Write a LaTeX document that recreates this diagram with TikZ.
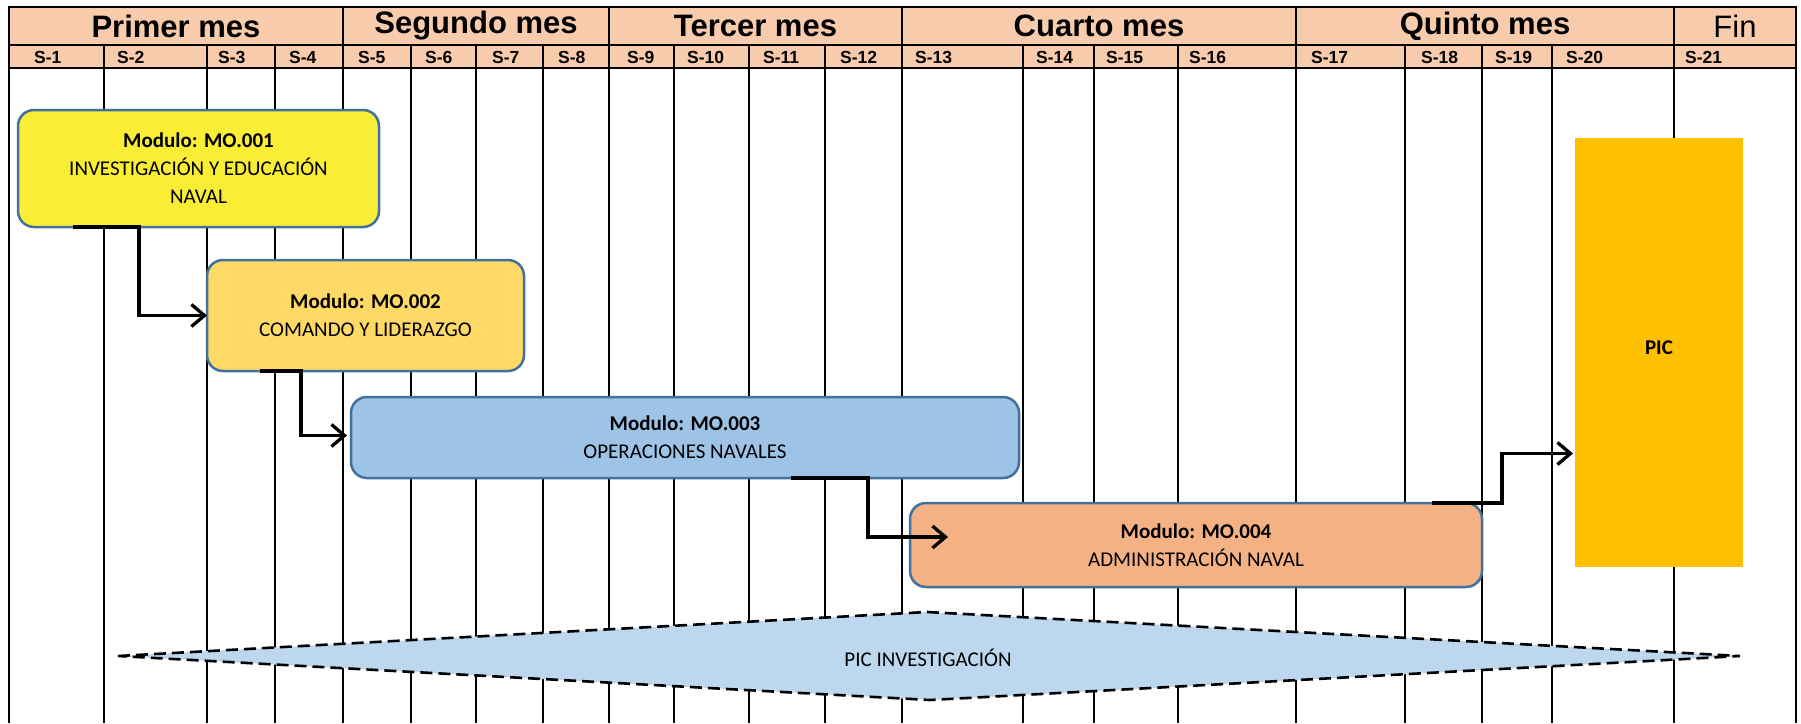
\documentclass[tikz,border=0pt]{standalone}
\usepackage{fontspec}
\setmainfont{Liberation Sans}
\newfontfamily\calfont{Carlito}
\usetikzlibrary{arrows.meta,calc}
\definecolor{hdrfill}{HTML}{F8CBAD}
\definecolor{boxline}{HTML}{41719C}
\definecolor{yellowbox}{HTML}{F9EE35}
\definecolor{goldbox}{HTML}{FFD966}
\definecolor{bluebox}{HTML}{9DC3E6}
\definecolor{orangebox}{HTML}{F4B183}
\definecolor{picfill}{HTML}{FFC000}
\definecolor{diamfill}{HTML}{BDD7EE}
\tikzset{
  month/.style={font=\fontsize{31}{34}\selectfont\bfseries, inner sep=0pt},
  monthreg/.style={font=\fontsize{31}{34}\selectfont, inner sep=0pt},
  week/.style={font=\fontsize{17.5}{19}\selectfont\bfseries, inner sep=0pt, anchor=west},
  grid/.style={line width=1.8pt, black},
  hborder/.style={line width=2.6pt, black},
  modbox/.style={draw=boxline, line width=2.5pt, rounded corners=16pt, inner sep=0pt, outer sep=0pt, align=center, font=\calfont\fontsize{21}{28}\selectfont},
  picbox/.style={fill=picfill, inner sep=0pt, outer sep=0pt, font=\calfont\fontsize{21}{28}\selectfont\bfseries},
  link/.style={line width=3.3pt, black, -{Straight Barb[length=13pt,width=22pt,line width=3.3pt]}},
  diam/.style={draw=black, fill=diamfill, line width=2.6pt, dash pattern=on 12pt off 6pt},
  diamlabel/.style={inner sep=0pt, font=\calfont\fontsize{21}{24}\selectfont}
}
\begin{document}
\begin{tikzpicture}[x=1pt,y=-1pt]
\useasboundingbox (0,0) rectangle (1801,723);
\fill[white] (0,0) rectangle (1801,723);
% header
\fill[hdrfill] (9,7) rectangle (1796,68);
\foreach \x in {9,104,207,275,343,411,476,543,609,674,749,825,902,1023,1094,1178,1296,1405,1482,1552,1674,1796}
  \draw[grid] (\x,45) -- (\x,723);
\foreach \x in {343,609,902,1296,1674}
  \draw[hborder] (\x,7) -- (\x,45);
\draw[hborder] (9,7) rectangle (1796,68);
\draw[hborder] (9,45) -- (1796,45);
\node[month] (m1) at (176,26) {Primer mes};
\node[month] (m2) at (476,26) {Segundo mes};
\node[month] (m3) at (755.5,26) {Tercer mes};
\node[month] (m4) at (1099,26) {Cuarto mes};
\node[month] (m5) at (1485,26) {Quinto mes};
\node[monthreg] (m6) at (1735,26) {Fin};
\foreach \x/\n in {34/1,117/2,218/3,289/4,358/5,425/6,492/7,558/8,627/9,687/10,763/11,840/12,915/13,1036/14,1106/15,1189/16,1311/17,1421/18,1495/19,1566/20,1685/21}
  \node[week] (s\n) at (\x,57) {S-\n};
% modules
\node[modbox, fill=yellowbox, minimum width=361pt, minimum height=117pt] (b1) at (198.5,168.5)
  {\textbf{Modulo: MO.001}\\INVESTIGACIÓN Y EDUCACIÓN\\NAVAL};
\node[modbox, fill=goldbox, minimum width=317pt, minimum height=111pt] (b2) at (365.5,315.5)
  {\textbf{Modulo: MO.002}\\COMANDO Y LIDERAZGO};
\node[modbox, fill=bluebox, minimum width=668pt, minimum height=81pt] (b3) at (685,437.5)
  {\textbf{Modulo: MO.003}\\OPERACIONES NAVALES};
\node[modbox, fill=orangebox, minimum width=572pt, minimum height=84pt] (b4) at (1196,545)
  {\textbf{Modulo: MO.004}\\ADMINISTRACIÓN NAVAL};
\node[picbox, minimum width=168pt, minimum height=429pt] (pic) at (1659,352.5) {\raisebox{10pt}{PIC}};
% connectors
\coordinate (c1) at ($(b1.south west)+(55,0)$);
\draw[link] (c1) -| ($(b2.west)+(-68,0)$) -- (b2.west);
\coordinate (c2) at ($(b2.south west)+(53,0)$);
\draw[link] (c2) -| ($(b3.west)+(-50,-2)$) -- ($(b3.west)+(-4,-2)$);
\coordinate (c3) at ($(b3.south east)+(-228,0)$);
\draw[link] (c3) -| ($(b4.west)+(-42,-8)$) -- ($(b4.west)+(38,-8)$);
\coordinate (c4) at ($(b4.north east)+(-50,0)$);
\draw[link] (c4) -| ($(pic.west)+(-73,101)$) -- ($(pic.west)+(-2,101)$);
% diamond
\coordinate (dl) at (118,656);
\coordinate (dt) at (927,612);
\coordinate (dr) at (1740,656);
\coordinate (db) at (930,700);
\draw[diam] (dl) -- (dt) -- (dr) -- (db) -- cycle;
\node[diamlabel] (pinv) at (928,658) {PIC INVESTIGACIÓN};
\end{tikzpicture}
\end{document}
